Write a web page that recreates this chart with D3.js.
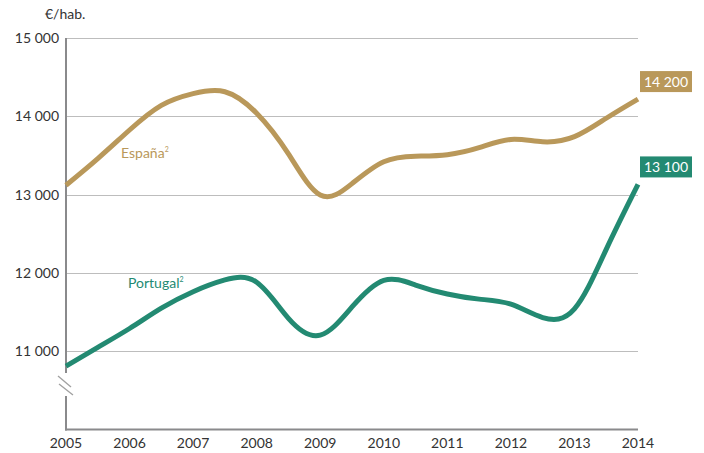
<!DOCTYPE html>
<html lang="es">
<head>
    <meta charset="UTF-8">
    <title>€/hab. España y Portugal</title>
    <script src="https://d3js.org/d3.v7.min.js"></script>
    <style>
        body { margin: 0; background: #fff; }
        text { font-family: Lato, "Open Sans", sans-serif; }
    </style>
</head>
<body>
<svg id="chart"></svg>
<script>
// Zeitpunkte (Halbjahre)
var periods = [2005, 2005.5, 2006, 2006.5, 2007, 2007.5, 2008, 2008.5, 2009, 2009.5,
               2010, 2010.5, 2011, 2011.5, 2012, 2012.5, 2013, 2013.5, 2014];
var espana = [13120, 13460, 13825, 14140, 14290, 14314, 14040, 13520, 12995, 13140,
              13420, 13490, 13510, 13600, 13705, 13675, 13740, 13975, 14220];
var portugal = [10810, 11050, 11290, 11550, 11760, 11910, 11880, 11420, 11205, 11565,
                11905, 11845, 11730, 11665, 11600, 11430, 11540, 12300, 13130];

var yearTicks = [2005, 2006, 2007, 2008, 2009, 2010, 2011, 2012, 2013, 2014];
var valueTicks = [11000, 12000, 13000, 14000, 15000];
var endLabels = ["14 200", "13 100"];

var width = 704, height = 453;
var margin = {left: 66, right: 66, top: 38, bottom: 23};

var svg = d3.select("#chart").attr("width", width).attr("height", height);

var x = d3.scaleLinear().domain([2005, 2014]).range([margin.left, width - margin.right]);
var y = d3.scaleLinear().domain([10000, 15000]).range([height - margin.bottom - 0.5, margin.top]);

var fmt = function(v) { return d3.format(",")(v).replace(",", " "); };

// Gitterlinien
svg.append("g").selectAll("line")
    .data(valueTicks).enter().append("line")
    .attr("x1", x(2005)).attr("x2", x(2014))
    .attr("y1", function(d) { return Math.round(y(d)) + 0.5; })
    .attr("y2", function(d) { return Math.round(y(d)) + 0.5; })
    .attr("stroke", "#bdbdbd").attr("stroke-width", 1.2);

// Y-Beschriftungen
svg.append("g").selectAll("text")
    .data(valueTicks).enter().append("text")
    .attr("x", 59).attr("y", function(d) { return y(d) + 5; })
    .attr("text-anchor", "end")
    .attr("font-size", 14).attr("fill", "#333")
    .text(fmt);

svg.append("text").attr("x", 45).attr("y", 19)
    .attr("font-size", 14).attr("fill", "#333").text("€/hab.");

// Y-Achse mit Unterbrechung
var axisColor = "#8a8a8c";
svg.append("line").attr("x1", x(2005)).attr("x2", x(2005))
    .attr("y1", y(15000)).attr("y2", 373)
    .attr("stroke", axisColor).attr("stroke-width", 2);
svg.append("line").attr("x1", x(2005)).attr("x2", x(2005))
    .attr("y1", 396).attr("y2", y(10000) + 1)
    .attr("stroke", axisColor).attr("stroke-width", 2);
svg.append("line").attr("x1", 58).attr("y1", 376).attr("x2", 71).attr("y2", 387)
    .attr("stroke", "#a0a0a0").attr("stroke-width", 1.3);
svg.append("line").attr("x1", 59).attr("y1", 384).attr("x2", 73).attr("y2", 395)
    .attr("stroke", "#a0a0a0").attr("stroke-width", 1.3);

// X-Achse
svg.append("line").attr("x1", x(2005) - 1).attr("x2", x(2014))
    .attr("y1", y(10000)).attr("y2", y(10000))
    .attr("stroke", axisColor).attr("stroke-width", 2.2);

svg.append("g").selectAll("text")
    .data(yearTicks).enter().append("text")
    .attr("x", function(d) { return x(d); }).attr("y", 448)
    .attr("text-anchor", "middle")
    .attr("font-size", 14).attr("fill", "#333")
    .text(function(d) { return d; });

// Linien
var line = d3.line()
    .x(function(d, i) { return x(periods[i]); })
    .y(function(d) { return y(d); })
    .curve(d3.curveNatural);

var gold = "#b9985a", teal = "#238a72";
var series = [
    {name: "España", values: espana, color: gold, lx: 121, ly: 158, label: endLabels[0]},
    {name: "Portugal", values: portugal, color: teal, lx: 128, ly: 288, label: endLabels[1]}
];

series.forEach(function(s) {
    svg.append("path").datum(s.values)
        .attr("d", line)
        .attr("fill", "none")
        .attr("stroke", s.color)
        .attr("stroke-width", 5);

    var t = svg.append("text").attr("x", s.lx).attr("y", s.ly)
        .attr("font-size", 14).attr("fill", s.color);
    t.append("tspan").text(s.name);
    t.append("tspan").attr("font-size", 7).attr("dy", -6).text("2");

    var yEnd = y(s.values[s.values.length - 1]);
    svg.append("rect").attr("x", 640).attr("y", yEnd - 28)
        .attr("width", 52).attr("height", 21).attr("fill", s.color);
    svg.append("text").attr("x", 666).attr("y", yEnd - 12.5)
        .attr("text-anchor", "middle").attr("font-size", 14).attr("fill", "#fff")
        .text(s.label);
});
</script>
</body>
</html>
